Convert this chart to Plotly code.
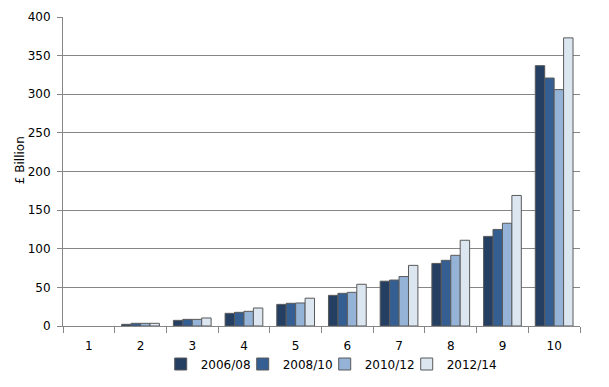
import plotly.graph_objects as go

categories = ["1", "2", "3", "4", "5", "6", "7", "8", "9", "10"]
series_names = ["2006/08", "2008/10", "2010/12", "2012/14"]
v2006_08 = [None, 2.2, 7.3, 16.4, 28, 39.7, 58, 81, 116, 337]
v2008_10 = [None, 3.5, 8.6, 17.7, 29.4, 42.3, 59.5, 85, 125, 321]
v2010_12 = [None, 3.5, 8.6, 19, 29.8, 43.6, 64, 91.5, 133, 306]
v2012_14 = [None, 3.5, 10.4, 23.3, 36, 54, 78.5, 111, 169, 373]
colors = ["#253F62", "#355F93", "#95B3D7", "#DCE6F1"]
y_ticks = [0, 50, 100, 150, 200, 250, 300, 350, 400]

fig = go.Figure()
all_vals = [v2006_08, v2008_10, v2010_12, v2012_14]
for i, (name, vals, col) in enumerate(zip(series_names, all_vals, colors)):
    fig.add_trace(go.Bar(x=categories, y=vals, name=name,
                         legendwidth=(37 if i < 3 else 70),
                         marker=dict(color=col, line=dict(color="#595959", width=1))))

font = dict(family="DejaVu Sans, Verdana, sans-serif", size=12, color="#000000")
fig.update_layout(
    width=601, height=379,
    margin=dict(l=55, r=29, t=9, b=61, autoexpand=False),
    paper_bgcolor="white", plot_bgcolor="white",
    barmode="group", bargap=0.27, bargroupgap=0,
    font=font,
    showlegend=True,
    legend=dict(orientation="h", x=0.189, xanchor="left", y=-0.123, yanchor="middle",
                font=dict(family="DejaVu Sans, Verdana, sans-serif", size=12),
                traceorder="normal", bgcolor="rgba(0,0,0,0)"),
    xaxis=dict(type="category", tickson="boundaries", ticks="outside", ticklen=6,
               tickcolor="#868686", showline=True, linecolor="#868686", linewidth=1,
               showgrid=False, tickfont=font, automargin=False, ticklabelstandoff=9),
    yaxis=dict(range=[0, 400], tickvals=y_ticks, showgrid=True, gridcolor="#868686",
               gridwidth=1, showline=True, linecolor="#868686", linewidth=1,
               ticks="outside", ticklen=5, tickcolor="#868686", zeroline=False,
               automargin=False, ticklabelstandoff=4, tickfont=font),
    annotations=[dict(text="£ Billion", textangle=-90, xref="paper", yref="paper",
                      x=-0.083, y=0.537, xanchor="center", yanchor="middle",
                      showarrow=False, font=font)],
)
fig.write_html("out.html")
